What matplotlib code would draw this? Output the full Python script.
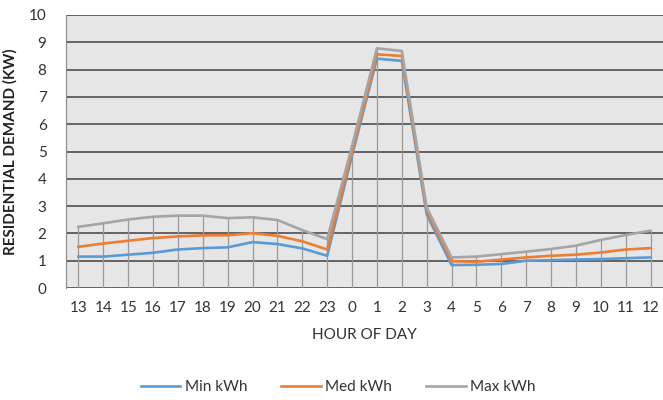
import matplotlib.pyplot as plt
import numpy as np

plt.rcParams['font.family'] = ['Lato', 'DejaVu Sans']

hours = ['13', '14', '15', '16', '17', '18', '19', '20', '21', '22', '23', '0',
         '1', '2', '3', '4', '5', '6', '7', '8', '9', '10', '11', '12']
min_kwh = [1.15, 1.15, 1.22, 1.29, 1.41, 1.46, 1.49, 1.68, 1.61, 1.45, 1.18, 4.85,
           8.40, 8.32, 2.70, 0.84, 0.85, 0.88, 1.00, 1.02, 1.04, 1.06, 1.09, 1.12]
med_kwh = [1.51, 1.63, 1.73, 1.83, 1.89, 1.93, 1.93, 2.01, 1.91, 1.71, 1.41, 5.00,
           8.56, 8.50, 2.83, 0.98, 0.96, 1.04, 1.12, 1.18, 1.22, 1.30, 1.41, 1.46]
max_kwh = [2.24, 2.37, 2.51, 2.61, 2.65, 2.65, 2.56, 2.59, 2.49, 2.12, 1.79, 5.20,
           8.78, 8.68, 2.95, 1.12, 1.15, 1.24, 1.33, 1.43, 1.55, 1.76, 1.94, 2.10]

x = np.arange(len(hours))

fig = plt.figure(figsize=(6.63, 4), dpi=100)
ax = fig.add_axes([0.0995, 0.28, 0.9005, 0.6825])
ax.set_facecolor('#e6e6e6')

# horizontal gridlines
ax.set_yticks(range(0, 11))
ax.yaxis.grid(True, color='#404040', linewidth=1.1)
ax.set_axisbelow(True)

# drop lines from the top series down to the axis
ax.vlines(x, 0, np.maximum.reduce([min_kwh, med_kwh, max_kwh]), color='#9a9a9a', linewidth=0.9, zorder=1.5)

ax.plot(x, min_kwh, color='#5B9BD5', linewidth=1.9, label='Min kWh', zorder=3)
ax.plot(x, med_kwh, color='#ED7D31', linewidth=1.9, label='Med kWh', zorder=3)
ax.plot(x, max_kwh, color='#A5A5A5', linewidth=1.9, label='Max kWh', zorder=3)

ax.set_xlim(-0.5, len(hours) - 0.5)
ax.set_ylim(0, 10)
ax.set_xticks(x)
ax.set_xticklabels(hours)
ax.tick_params(axis='both', length=0, labelsize=11, colors='#333333', pad=9)
ax.tick_params(axis='y', pad=14)

for s in ['top', 'right', 'bottom']:
    ax.spines[s].set_visible(False)
ax.spines['left'].set_color('#888888')

ax.set_xlabel('HOUR OF DAY', fontsize=11, color='#333333', labelpad=10)
ax.set_ylabel('RESIDENTIAL DEMAND (KW)', fontsize=11, fontweight='bold', color='#222222', labelpad=8)

fig.legend(loc='lower center', bbox_to_anchor=(0.51, -0.02), ncol=3, frameon=False,
           fontsize=11, handlelength=2.6, handletextpad=0.3, columnspacing=2.2,
           labelcolor='#333333')

plt.savefig('out.png', dpi=100)
